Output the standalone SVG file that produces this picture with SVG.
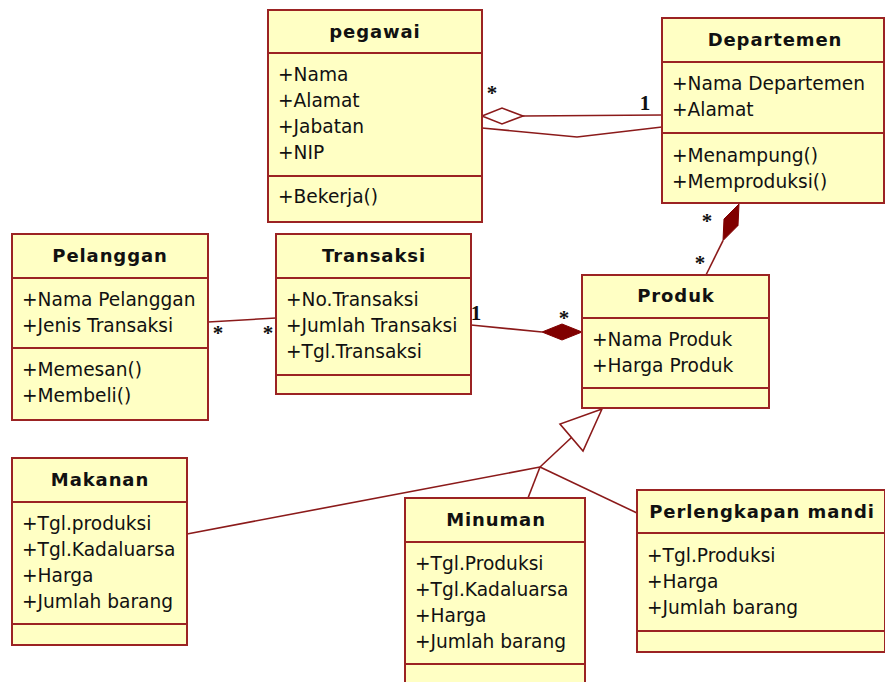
<svg xmlns="http://www.w3.org/2000/svg" width="885" height="682" viewBox="0 0 885 682">
<style>
.box{fill:#ffffc4;stroke:#9b2323;stroke-width:2}
.div{stroke:#9b2323;stroke-width:2}
.t{font-family:"DejaVu Sans",Verdana,sans-serif;font-size:18.6px;fill:#111}
.h{font-family:"DejaVu Sans",Verdana,sans-serif;font-size:18px;font-weight:bold;fill:#111;text-anchor:middle;letter-spacing:0.9px}
.c{fill:none;stroke:#8b1a1a;stroke-width:1.6}
.m{font-family:"Liberation Serif",serif;font-size:21px;font-weight:bold;fill:#111;text-anchor:middle}
</style>
<rect width="885" height="682" fill="#fff"/>
<g id="connectors">
<polygon class="c" points="482,116 502,108 523,116 502,124" fill="#fff"/>
<line class="c" x1="523" y1="116" x2="662" y2="115"/>
<polyline class="c" points="482,128 577,137 662,127"/>
<polyline class="c" points="208,322 276,318"/>
<line class="c" x1="471" y1="325" x2="542" y2="332"/>
<polygon points="582,332 562,324 542,332 562,340" fill="#800000" stroke="#800000" stroke-width="1"/>
<polygon points="739,204 738,225.5 723,240.6 724,219" fill="#800000" stroke="#800000" stroke-width="1"/>
<line class="c" x1="723" y1="240.6" x2="706" y2="275"/>
<polygon class="c" points="602,409 560,424 583,451" fill="#fff"/>
<line class="c" x1="571.5" y1="437.5" x2="540" y2="467"/>
<line class="c" x1="540" y1="467" x2="187" y2="534"/>
<line class="c" x1="540" y1="467" x2="528" y2="498"/>
<line class="c" x1="540" y1="467" x2="637" y2="513"/>
<text class="m" x="492" y="100">*</text>
<text class="m" x="645" y="110">1</text>
<text class="m" x="218" y="340">*</text>
<text class="m" x="268" y="340">*</text>
<text class="m" x="476" y="320">1</text>
<text class="m" x="564" y="325">*</text>
<text class="m" x="707" y="228">*</text>
<text class="m" x="700" y="270">*</text>
</g>
<g id="pegawai">
<rect class="box" x="268" y="10" width="214" height="212"/>
<line class="div" x1="268" y1="53" x2="482" y2="53"/>
<line class="div" x1="268" y1="176" x2="482" y2="176"/>
<text class="h" x="375" y="38">pegawai</text>
<text class="t" x="278" y="81">+Nama</text>
<text class="t" x="278" y="107">+Alamat</text>
<text class="t" x="278" y="133">+Jabatan</text>
<text class="t" x="278" y="159">+NIP</text>
<text class="t" x="278" y="203">+Bekerja()</text>
</g>
<g id="departemen">
<rect class="box" x="662" y="18" width="222" height="185"/>
<line class="div" x1="662" y1="62" x2="884" y2="62"/>
<line class="div" x1="662" y1="133" x2="884" y2="133"/>
<text class="h" x="775" y="46">Departemen</text>
<text class="t" x="672" y="90">+Nama Departemen</text>
<text class="t" x="672" y="116">+Alamat</text>
<text class="t" x="672" y="162">+Menampung()</text>
<text class="t" x="672" y="188">+Memproduksi()</text>
</g>
<g id="pelanggan">
<rect class="box" x="12" y="234" width="196" height="186"/>
<line class="div" x1="12" y1="278" x2="208" y2="278"/>
<line class="div" x1="12" y1="348" x2="208" y2="348"/>
<text class="h" x="110" y="262">Pelanggan</text>
<text class="t" x="22" y="306">+Nama Pelanggan</text>
<text class="t" x="22" y="332">+Jenis Transaksi</text>
<text class="t" x="22" y="376">+Memesan()</text>
<text class="t" x="22" y="402">+Membeli()</text>
</g>
<g id="transaksi">
<rect class="box" x="276" y="234" width="195" height="160"/>
<line class="div" x1="276" y1="278" x2="471" y2="278"/>
<line class="div" x1="276" y1="375" x2="471" y2="375"/>
<text class="h" x="374" y="262">Transaksi</text>
<text class="t" x="286" y="306">+No.Transaksi</text>
<text class="t" x="286" y="332">+Jumlah Transaksi</text>
<text class="t" x="286" y="358">+Tgl.Transaksi</text>
</g>
<g id="produk">
<rect class="box" x="582" y="275" width="187" height="133"/>
<line class="div" x1="582" y1="318" x2="769" y2="318"/>
<line class="div" x1="582" y1="388" x2="769" y2="388"/>
<text class="h" x="676" y="302">Produk</text>
<text class="t" x="592" y="346">+Nama Produk</text>
<text class="t" x="592" y="372">+Harga Produk</text>
</g>
<g id="makanan">
<rect class="box" x="12" y="458" width="175" height="187"/>
<line class="div" x1="12" y1="502" x2="187" y2="502"/>
<line class="div" x1="12" y1="624" x2="187" y2="624"/>
<text class="h" x="100" y="486">Makanan</text>
<text class="t" x="22" y="530">+Tgl.produksi</text>
<text class="t" x="22" y="556">+Tgl.Kadaluarsa</text>
<text class="t" x="22" y="582">+Harga</text>
<text class="t" x="22" y="608">+Jumlah barang</text>
</g>
<g id="minuman">
<rect class="box" x="405" y="498" width="180" height="195"/>
<line class="div" x1="405" y1="542" x2="585" y2="542"/>
<line class="div" x1="405" y1="664" x2="585" y2="664"/>
<text class="h" x="496" y="526">Minuman</text>
<text class="t" x="415" y="570">+Tgl.Produksi</text>
<text class="t" x="415" y="596">+Tgl.Kadaluarsa</text>
<text class="t" x="415" y="622">+Harga</text>
<text class="t" x="415" y="648">+Jumlah barang</text>
</g>
<g id="perlengkapan">
<rect class="box" x="637" y="490" width="248" height="162"/>
<line class="div" x1="637" y1="533" x2="885" y2="533"/>
<line class="div" x1="637" y1="631" x2="885" y2="631"/>
<text class="h" x="762" y="518">Perlengkapan mandi</text>
<text class="t" x="647" y="562">+Tgl.Produksi</text>
<text class="t" x="647" y="588">+Harga</text>
<text class="t" x="647" y="614">+Jumlah barang</text>
</g>
</svg>
